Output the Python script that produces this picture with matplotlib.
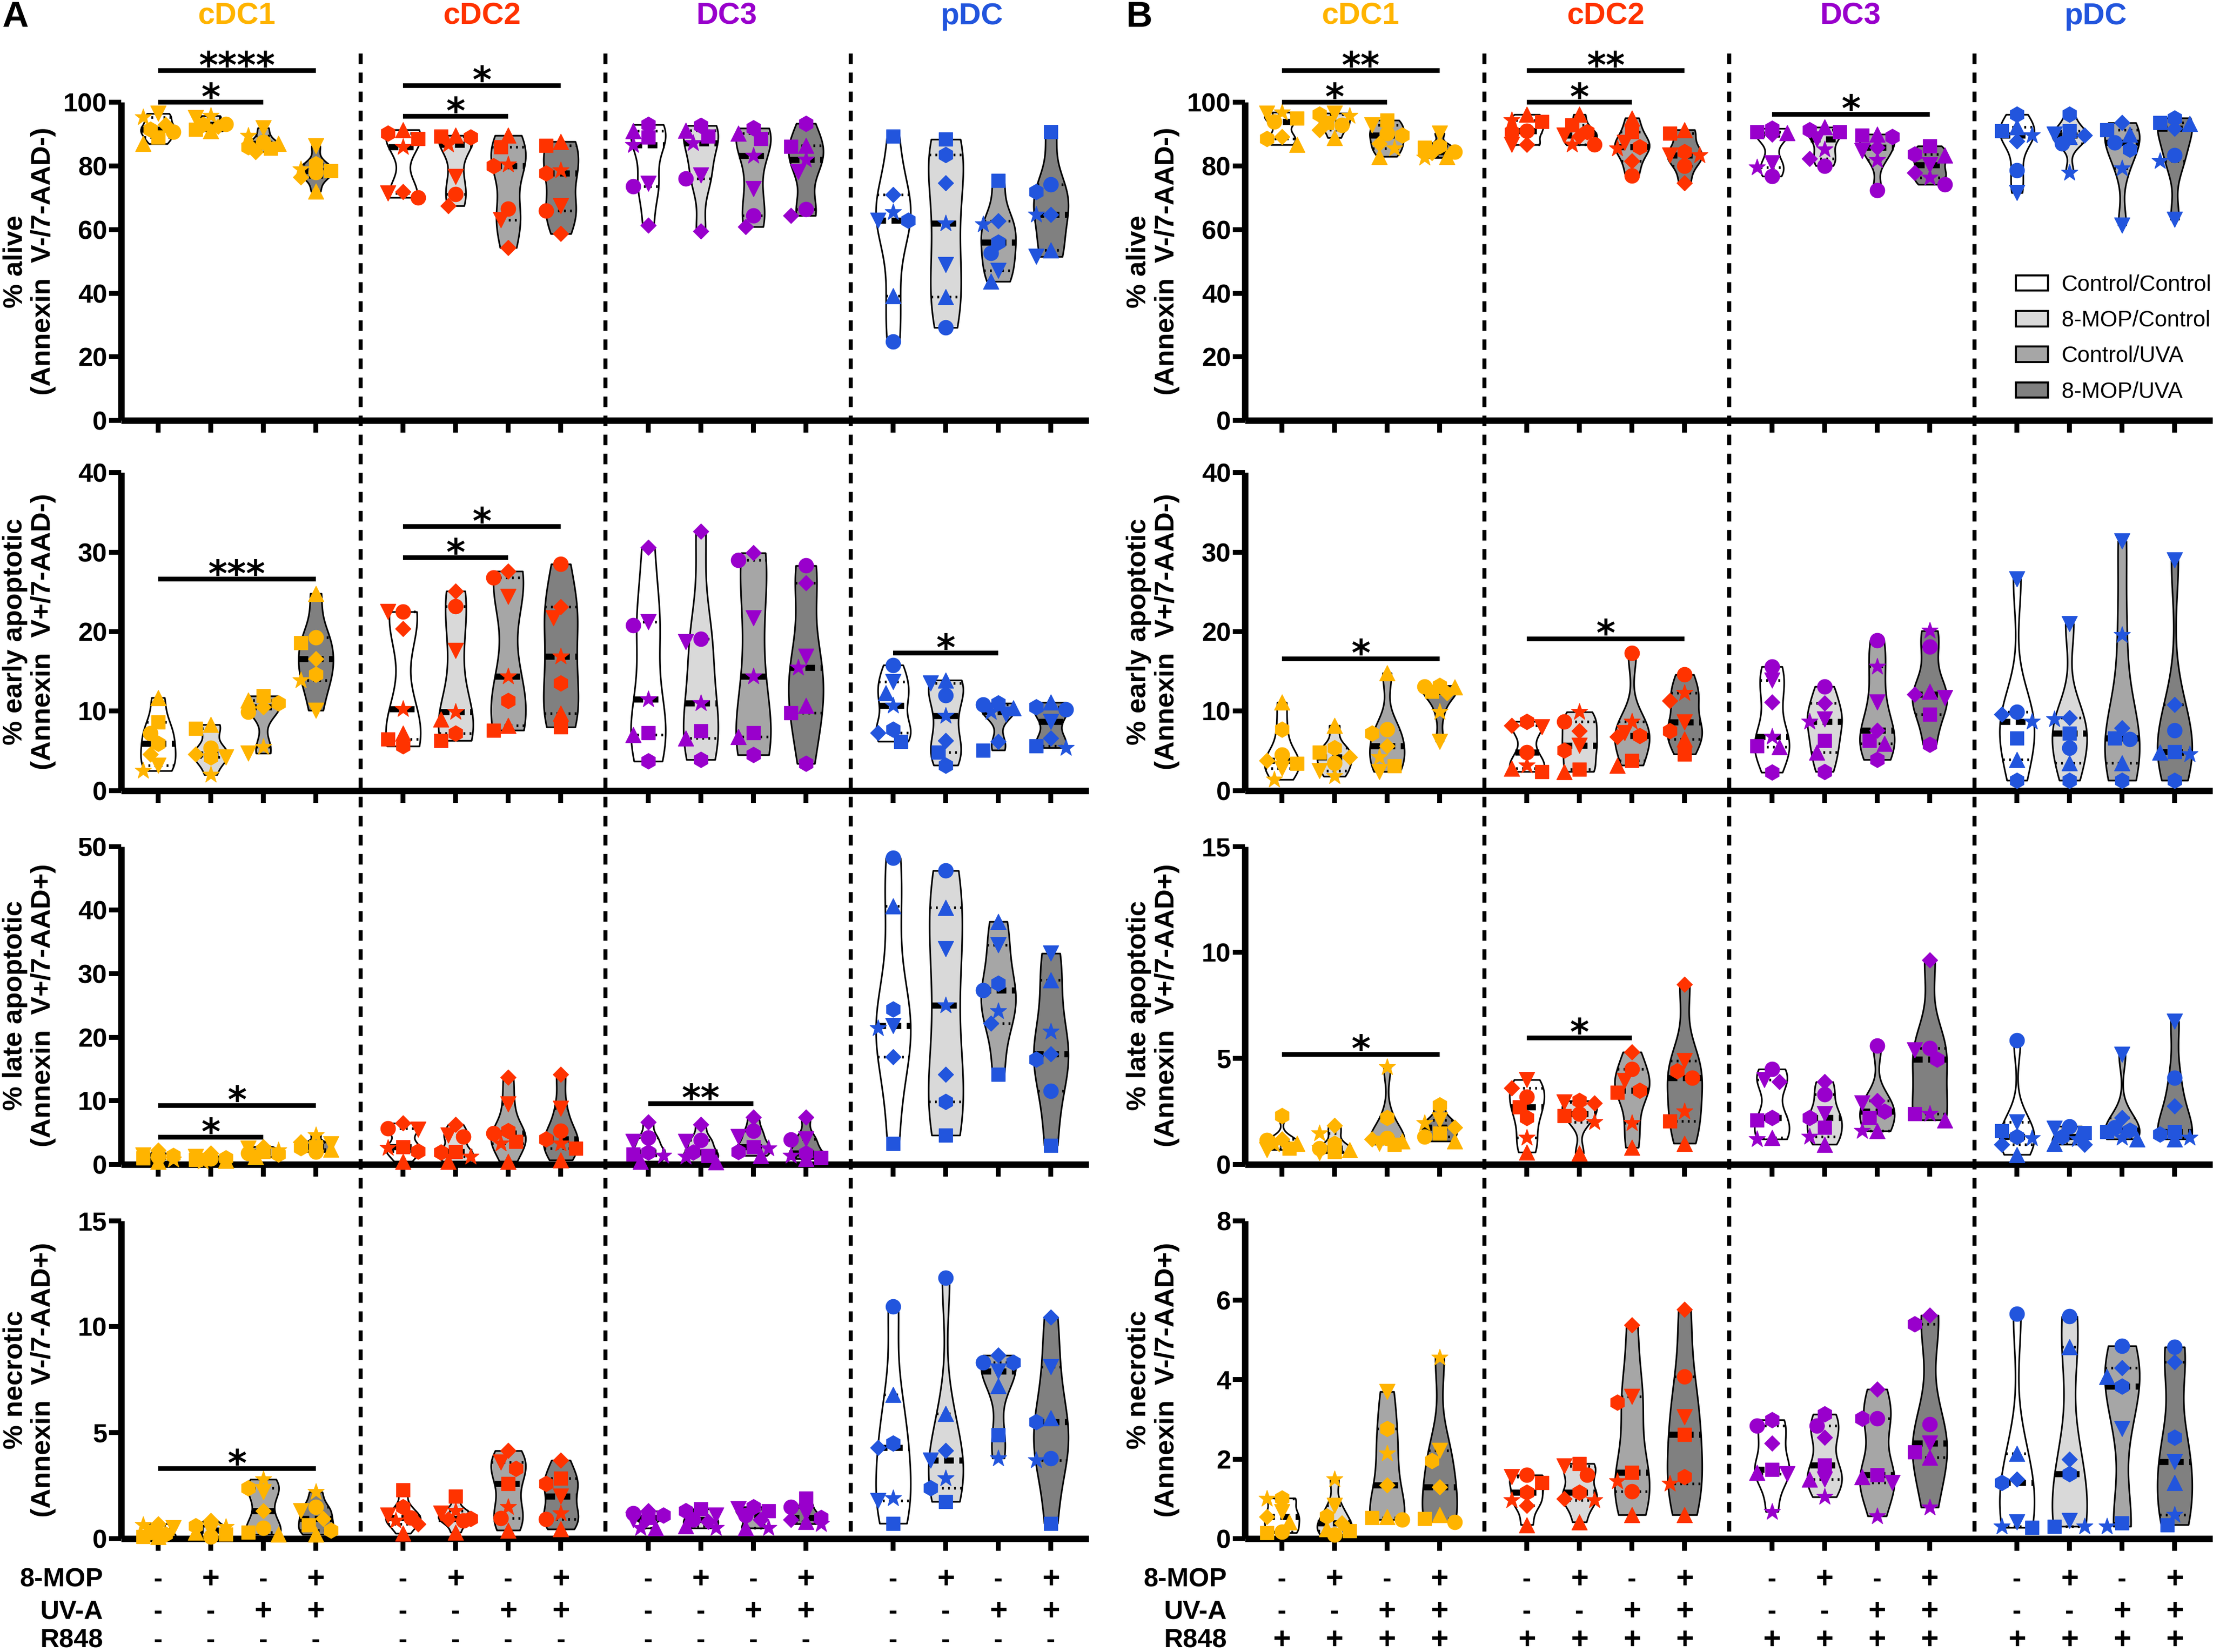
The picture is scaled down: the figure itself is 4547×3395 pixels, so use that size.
import numpy as np
import matplotlib
matplotlib.use("Agg")
import matplotlib.pyplot as plt
import matplotlib.transforms as mtransforms
from matplotlib.lines import Line2D
from matplotlib.patches import Patch

plt.rcParams['font.family'] = ['Liberation Sans', 'DejaVu Sans']
plt.rcParams['font.weight'] = 'bold'

groups = ['cDC1', 'cDC2', 'DC3', 'pDC']
group_colors = ['#FFB400', '#FF3300', '#9900CC', '#2255DD']
conditions = ['Control/Control', '8-MOP/Control', 'Control/UVA', '8-MOP/UVA']
condition_fills = ['#FFFFFF', '#D9D9D9', '#A6A6A6', '#808080']
donor_markers = ['o', 's', '^', 'v', 'D', 'h', '*']
donor_sizes = [7.3, 6.5, 7.6, 7.6, 5.4, 7.8, 8.8]

row_labels = ['% alive\n(Annexin  V-/7-AAD-)',
              '% early apoptotic\n(Annexin  V+/7-AAD-)',
              '% late apoptotic\n(Annexin  V+/7-AAD+)',
              '% necrotic\n(Annexin  V-/7-AAD+)']
a_ymax = [100, 40, 50, 15]
a_ystep = [20, 10, 10, 5]
b_ymax = [100, 40, 15, 8]
b_ystep = [20, 10, 5, 2]

mop_signs = ['-', '+', '-', '+']
uva_signs = ['-', '-', '+', '+']
a_r848 = ['-', '-', '-', '-']
b_r848 = ['+', '+', '+', '+']

# each violin: donors in order circle, square, tri-up, tri-down, diamond, hexagon, star
# 16 violins per row: cDC1 x4 conditions, cDC2 x4, DC3 x4, pDC x4
A_ALIVE = [
    [90.8, 89.0, 87.0, 96.5, 93.0, 91.5, 95.4], [93.2, 91.5, 91.0, 95.2, 92.5, 93.0, 95.8],
    [87.5, 85.5, 87.0, 92.0, 84.5, 86.0, 89.5], [78.0, 78.5, 72.0, 86.3, 76.5, 80.6, 79.0],
    [70.1, 88.6, 91.4, 71.4, 71.9, 90.3, 86.0], [71.2, 89.4, 89.6, 76.7, 67.5, 89.0, 86.8],
    [66.6, 86.0, 89.6, 63.0, 54.3, 80.0, 80.5], [65.9, 86.4, 87.7, 67.5, 58.7, 77.8, 78.6],
    [73.6, 89.0, 91.0, 74.5, 61.3, 93.0, 86.6], [76.0, 89.4, 91.2, 77.1, 59.5, 92.7, 87.2],
    [64.4, 88.6, 90.3, 72.9, 60.9, 91.9, 83.3], [66.4, 86.1, 86.4, 78.2, 64.4, 93.4, 82.0],
    [24.8, 89.4, 39.1, 62.9, 71.0, 62.9, 65.5], [29.2, 88.4, 38.9, 49.0, 74.7, 83.6, 62.0],
    [52.7, 75.4, 43.7, 47.2, 62.8, 56.0, 61.6], [74.2, 90.8, 53.6, 51.5, 64.8, 71.9, 64.8],
]
A_EARLY = [
    [7.2, 8.6, 11.7, 3.2, 4.6, 5.9, 2.5], [5.4, 7.8, 8.3, 4.2, 4.6, 4.2, 2.0],
    [9.9, 11.9, 11.4, 4.7, 10.5, 11.0, 5.5], [19.3, 18.6, 24.8, 10.1, 16.6, 14.6, 13.9],
    [22.5, 6.5, 7.2, 22.5, 20.4, 5.6, 10.3], [23.2, 6.3, 9.0, 17.6, 25.1, 7.2, 9.9],
    [26.8, 7.6, 8.2, 24.4, 27.6, 11.3, 14.4], [28.5, 8.0, 9.7, 21.7, 23.1, 13.5, 16.9],
    [20.8, 7.3, 7.0, 21.2, 30.6, 3.7, 11.5], [19.1, 7.5, 6.6, 18.7, 32.6, 3.9, 11.0],
    [29.0, 7.3, 6.8, 21.7, 29.9, 4.5, 14.4], [28.3, 9.8, 10.7, 16.9, 26.1, 3.4, 15.5],
    [15.8, 6.2, 12.3, 13.7, 7.3, 7.7, 10.7], [12.0, 4.8, 13.9, 13.5, 6.3, 3.2, 9.4],
    [10.8, 5.1, 10.4, 9.6, 6.2, 11.0, 9.9], [10.2, 5.6, 11.1, 8.7, 6.6, 10.5, 5.4],
]
A_LATE = [
    [1.2, 1.0, 0.5, 1.5, 2.2, 1.4, 0.8], [0.9, 0.8, 0.6, 1.2, 1.8, 1.0, 0.5],
    [1.8, 2.0, 1.2, 2.5, 2.8, 1.6, 2.2], [2.0, 2.8, 2.4, 3.2, 3.5, 2.6, 4.6],
    [5.7, 2.8, 0.5, 5.5, 6.5, 2.1, 2.6], [4.4, 2.0, 0.5, 4.6, 6.3, 1.9, 1.2],
    [4.9, 3.6, 0.5, 9.5, 13.7, 5.3, 3.3], [5.3, 2.5, 0.7, 8.8, 14.2, 4.0, 3.3],
    [4.2, 1.6, 0.5, 3.6, 6.7, 1.9, 1.4], [3.8, 1.4, 0.4, 3.6, 6.3, 1.9, 1.2],
    [5.3, 2.8, 1.4, 4.4, 7.4, 2.0, 2.5], [3.9, 1.1, 0.9, 4.0, 7.4, 1.8, 1.4],
    [48.2, 3.3, 40.6, 21.8, 16.9, 24.4, 21.4], [46.2, 4.6, 40.4, 33.9, 14.2, 9.9, 25.0],
    [27.4, 14.2, 38.2, 34.5, 22.2, 28.5, 24.1], [11.6, 3.0, 29.0, 33.2, 17.4, 16.5, 20.9],
]
A_NECROTIC = [
    [0.3, 0.1, 0.1, 0.5, 0.7, 0.2, 0.65], [0.1, 0.2, 0.3, 0.4, 0.85, 0.6, 0.55],
    [0.5, 0.3, 0.2, 2.2, 1.3, 2.4, 2.8], [1.5, 0.65, 0.2, 1.3, 0.95, 0.4, 2.2],
    [1.0, 2.3, 0.25, 1.1, 0.7, 1.5, 0.85], [0.85, 2.0, 0.3, 1.2, 0.93, 0.95, 1.3],
    [0.96, 2.6, 0.4, 3.6, 4.15, 3.3, 1.5], [0.93, 2.85, 0.45, 2.0, 3.7, 2.6, 1.2],
    [1.2, 1.0, 0.5, 0.9, 1.3, 1.1, 0.5], [0.9, 1.4, 0.6, 1.1, 0.8, 1.3, 0.5],
    [1.1, 1.3, 0.5, 1.4, 0.9, 1.5, 0.5], [1.5, 1.9, 0.8, 1.2, 0.9, 1.0, 0.7],
    [10.95, 0.72, 6.8, 1.8, 4.3, 4.5, 1.9], [12.3, 1.75, 5.9, 3.7, 4.15, 2.4, 2.85],
    [8.3, 4.9, 7.2, 7.9, 8.65, 8.3, 3.8], [3.8, 0.72, 5.7, 8.1, 10.45, 5.5, 3.7],
]
B_ALIVE = [
    [94.0, 95.1, 86.7, 96.6, 89.2, 88.6, 96.9], [92.9, 93.6, 88.9, 96.6, 91.4, 96.2, 95.8],
    [90.3, 94.4, 83.0, 92.9, 87.0, 89.6, 85.5], [84.5, 85.9, 83.0, 90.3, 84.1, 86.3, 82.6],
    [91.1, 94.0, 96.2, 86.7, 86.8, 90.7, 94.4], [86.7, 92.9, 96.2, 89.6, 89.4, 90.7, 86.7],
    [77.0, 90.7, 95.1, 87.4, 81.5, 86.0, 85.5], [80.0, 90.3, 91.4, 83.4, 74.6, 84.5, 83.4],
    [76.8, 90.8, 90.4, 81.0, 90.0, 91.8, 79.5], [80.1, 90.7, 92.2, 88.5, 82.3, 91.4, 85.2],
    [72.4, 89.6, 90.0, 84.8, 85.9, 89.2, 81.9], [74.2, 86.3, 83.4, 80.4, 77.9, 83.7, 76.4],
    [78.6, 91.1, 92.2, 71.6, 87.8, 96.2, 89.6], [87.0, 91.1, 89.2, 90.0, 89.6, 96.2, 77.9],
    [87.4, 91.4, 90.0, 61.4, 93.6, 85.2, 79.3], [83.4, 93.6, 93.3, 63.2, 91.8, 95.1, 81.5],
]
B_EARLY = [
    [4.5, 3.4, 11.1, 2.8, 3.8, 7.7, 1.4], [3.5, 4.8, 8.2, 2.5, 4.2, 5.4, 1.8],
    [7.7, 3.1, 14.8, 2.4, 5.6, 7.2, 4.2], [13.1, 12.5, 13.0, 6.2, 12.3, 13.2, 9.9],
    [4.8, 2.4, 2.8, 8.0, 8.2, 8.7, 3.2], [8.7, 2.7, 2.4, 5.7, 7.5, 5.1, 9.9],
    [17.3, 3.8, 3.2, 7.3, 6.8, 6.9, 8.7], [14.6, 4.6, 6.5, 8.6, 11.3, 7.5, 12.3],
    [15.6, 5.6, 5.5, 13.9, 11.1, 2.3, 6.8], [13.1, 6.3, 4.8, 9.0, 11.0, 2.4, 8.7],
    [18.9, 6.3, 5.9, 11.1, 7.6, 3.9, 15.6], [18.1, 9.6, 12.5, 11.7, 12.1, 5.8, 20.1],
    [9.9, 6.6, 3.9, 26.6, 9.6, 1.3, 8.7], [5.4, 7.2, 3.5, 21.0, 9.2, 1.3, 9.0],
    [6.5, 6.6, 3.5, 31.4, 7.9, 1.3, 19.6], [7.6, 4.9, 4.8, 29.0, 10.8, 1.3, 4.6],
]
B_LATE = [
    [1.15, 0.75, 1.0, 0.7, 1.2, 2.3, 0.95], [0.75, 0.6, 0.7, 0.55, 1.85, 1.0, 1.48],
    [1.25, 0.95, 1.1, 1.0, 1.2, 2.2, 4.6], [1.3, 1.48, 1.1, 2.1, 1.74, 2.8, 1.95],
    [3.2, 2.7, 0.58, 4.0, 3.6, 2.2, 1.27], [2.4, 2.3, 0.53, 2.95, 2.9, 3.0, 2.0],
    [4.5, 3.4, 0.8, 3.95, 5.3, 3.5, 1.95], [4.1, 2.05, 1.0, 4.9, 8.5, 4.4, 2.5],
    [4.5, 2.1, 1.27, 4.0, 3.9, 2.2, 1.2], [3.3, 1.74, 0.95, 2.4, 3.9, 2.2, 1.3],
    [5.6, 2.2, 1.58, 2.9, 3.0, 2.5, 1.58], [5.5, 2.4, 2.1, 5.4, 9.65, 4.95, 2.4],
    [5.85, 1.58, 0.47, 2.0, 0.95, 1.3, 1.25], [1.8, 1.5, 1.0, 1.7, 0.95, 1.3, 1.2],
    [1.74, 1.53, 1.2, 5.2, 2.2, 1.6, 1.27], [4.1, 1.53, 1.2, 6.75, 2.75, 1.42, 1.27],
]
B_NECROTIC = [
    [0.17, 0.15, 0.42, 0.68, 0.55, 1.02, 1.0], [0.1, 0.2, 0.25, 0.83, 0.39, 0.57, 1.49],
    [0.48, 0.53, 0.55, 3.7, 1.35, 2.77, 2.14], [0.42, 0.5, 0.6, 2.22, 1.3, 1.96, 4.56],
    [1.6, 1.41, 0.35, 1.56, 0.83, 1.16, 0.97], [1.6, 1.89, 0.42, 1.82, 1.0, 1.16, 0.97],
    [1.19, 1.67, 0.6, 3.57, 5.37, 3.43, 1.45], [4.08, 2.62, 0.6, 3.06, 5.77, 1.56, 1.38],
    [2.84, 1.74, 1.67, 1.63, 2.4, 2.99, 0.68], [2.84, 1.85, 1.49, 1.49, 2.55, 3.13, 1.05],
    [3.02, 1.6, 1.56, 1.41, 3.76, 3.02, 0.57], [2.88, 2.18, 2.04, 2.4, 5.62, 5.4, 0.79],
    [5.66, 0.28, 2.14, 0.42, 1.49, 1.41, 0.31], [5.59, 0.31, 4.82, 0.46, 2.0, 1.63, 0.31],
    [4.85, 0.39, 4.08, 2.77, 4.3, 3.83, 0.31], [4.82, 0.35, 1.41, 1.93, 4.45, 2.55, 0.6],
]

# significance: (panel, row, group, from condition, to condition, bar level, stars)
signif = [
    (0, 0, 0, 0, 3, 110, '****'), (0, 0, 0, 0, 2, 100, '*'),
    (0, 0, 1, 0, 3, 105.3, '*'), (0, 0, 1, 0, 2, 95.6, '*'),
    (0, 1, 0, 0, 3, 26.6, '***'), (0, 1, 1, 0, 2, 29.3, '*'),
    (0, 1, 1, 0, 3, 33.2, '*'), (0, 1, 3, 0, 2, 17.3, '*'),
    (0, 2, 0, 0, 2, 4.3, '*'), (0, 2, 0, 0, 3, 9.3, '*'), (0, 2, 2, 0, 2, 9.6, '**'),
    (0, 3, 0, 0, 3, 3.3, '*'),
    (1, 0, 0, 0, 3, 110, '**'), (1, 0, 0, 0, 2, 100, '*'),
    (1, 0, 1, 0, 3, 110, '**'), (1, 0, 1, 0, 2, 100, '*'), (1, 0, 2, 0, 3, 96.3, '*'),
    (1, 1, 0, 0, 3, 16.6, '*'), (1, 1, 1, 0, 3, 19.1, '*'),
    (1, 2, 0, 0, 3, 5.2, '*'), (1, 2, 1, 0, 2, 5.98, '*'),
]

GROUP_STEP = 4.66
HALF_WIDTH = 0.33
XLIM = (-0.7, 17.7)
ROW_BOTTOMS = [0.7455, 0.5214, 0.2951, 0.0686]
ROW_HEIGHT = 0.1925
PANEL_LEFTS = [0.0548, 0.5626]
PANEL_WIDTH = 0.4372


def xpos(g, c):
    return g * GROUP_STEP + c


def swarm(ys, ppx, ppy, diam):
    ys = np.asarray(ys, float)
    offs = np.zeros(len(ys))
    placed = []
    step = diam * 0.55
    maxoff = (HALF_WIDTH - 0.02) * ppx
    for i in np.argsort(-ys):
        best, best_cost = 0.0, None
        for k in [0, -1, 1, -2, 2, -3, 3, -4, 4]:
            ox = k * step
            if abs(ox) > maxoff:
                continue
            cost = 0.0
            for px, py in placed:
                d = np.hypot(ox - px, (ys[i] - py) * ppy)
                if d < diam * 0.9:
                    cost += diam * 0.9 - d
            if cost == 0:
                best = ox
                best_cost = 0
                break
            if best_cost is None or cost < best_cost:
                best, best_cost = ox, cost
        offs[i] = best / ppx
        placed.append((best, ys[i]))
    return offs


def draw_violin(ax, x0, vals, fill, color, ppx, ppy):
    vals = np.asarray(vals, float)
    lo, hi = vals.min(), vals.max()
    bw = 0.75 * vals.std(ddof=1) * len(vals) ** (-0.2)
    grid = np.linspace(lo, hi, 240)
    dens = np.exp(-0.5 * ((grid[:, None] - vals[None, :]) / bw) ** 2).sum(axis=1)
    half = dens / dens.max() * HALF_WIDTH
    ax.fill_betweenx(grid, x0 - half, x0 + half, facecolor=fill,
                     edgecolor='black', linewidth=0.8, zorder=1)
    q1, med, q3 = np.percentile(vals, [25, 50, 75], method='weibull')
    for q in (q1, q3):
        w = np.interp(q, grid, half)
        ax.plot([x0 - w, x0 + w], [q, q], color='black', lw=1.3,
                linestyle=(0, (0.7, 1.6)), zorder=2)
    w = np.interp(med, grid, half)
    ax.plot([x0 - w, x0 + w], [med, med], color='black', lw=3.0,
            linestyle=(0, (1.6, 0.9)), zorder=2)
    offs = swarm(vals, ppx, ppy, 28)
    for j, v in enumerate(vals):
        ax.plot(x0 + offs[j], v, marker=donor_markers[j], ms=donor_sizes[j],
                color=color, mec=color, mew=0.3, linestyle='none', zorder=3,
                clip_on=False)


fig = plt.figure(figsize=(4547 / 300, 3395 / 300), dpi=300)

panel_data = [[A_ALIVE, A_EARLY, A_LATE, A_NECROTIC],
              [B_ALIVE, B_EARLY, B_LATE, B_NECROTIC]]
panel_ymax = [a_ymax, b_ymax]
panel_ystep = [a_ystep, b_ystep]
panel_r848 = [a_r848, b_r848]
axes = [[None] * 4 for _ in range(2)]
ticks = [xpos(g, c) for g in range(4) for c in range(4)]

for p in range(2):
    for r in range(4):
        ax = fig.add_axes([PANEL_LEFTS[p], ROW_BOTTOMS[r], PANEL_WIDTH, ROW_HEIGHT])
        axes[p][r] = ax
        ymax = panel_ymax[p][r]
        ax.set_xlim(*XLIM)
        ax.set_ylim(0, ymax)
        ax.set_yticks(np.arange(0, ymax + 0.01, panel_ystep[p][r]))
        ax.set_xticks(ticks)
        ax.set_xticklabels([])
        for s in ('top', 'right'):
            ax.spines[s].set_visible(False)
        for s in ('left', 'bottom'):
            ax.spines[s].set_linewidth(3.2)
            ax.spines[s].set_capstyle('butt')
        ax.tick_params(axis='both', width=2.4, length=6, direction='out',
                       labelsize=13, pad=1)
        ax.patch.set_alpha(0)
        ppx = PANEL_WIDTH * 4547 / (XLIM[1] - XLIM[0])
        ppy = ROW_HEIGHT * 3395 / ymax
        data = panel_data[p][r]
        for g in range(4):
            for c in range(4):
                draw_violin(ax, xpos(g, c), data[g * 4 + c], condition_fills[c],
                            group_colors[g], ppx, ppy)
        fig.text(PANEL_LEFTS[p] - 0.0416, ROW_BOTTOMS[r] + ROW_HEIGHT / 2,
                 row_labels[r], rotation=90, ha='center', va='center',
                 fontsize=13.5, fontweight='bold', linespacing=1.15,
                 multialignment='center')

# significance bars
for p, r, g, c1, c2, lvl, stars in signif:
    ax = axes[p][r]
    ax.plot([xpos(g, c1), xpos(g, c2)], [lvl, lvl], color='black', lw=2.3,
            solid_capstyle='butt', clip_on=False, zorder=4)
    ax.annotate(stars, ((xpos(g, c1) + xpos(g, c2)) / 2, lvl),
                xytext=(0, -3.5), textcoords='offset points', ha='center',
                va='baseline', fontsize=18, fontweight='bold',
                family='DejaVu Sans', annotation_clip=False)

# group titles, separators, bottom sign rows
for p in range(2):
    top_ax, bot_ax = axes[p][0], axes[p][3]
    ttop = mtransforms.blended_transform_factory(top_ax.transData, fig.transFigure)
    tbot = mtransforms.blended_transform_factory(bot_ax.transData, fig.transFigure)
    for g in range(4):
        fig.text(xpos(g, 1.5), 0.9902, groups[g], transform=ttop, ha='center',
                 va='center', fontsize=15, fontweight='bold', color=group_colors[g])
    for g in range(3):
        xs = xpos(g, 3.85)
        fig.add_artist(Line2D([xs, xs], [0.9676, ROW_BOTTOMS[3]], transform=tbot,
                              color='black', lw=2.0, linestyle=(0, (2.6, 2.1))))
    rows = [('8-MOP', mop_signs, 0.0436), ('UV-A', uva_signs, 0.0242),
            ('R848', panel_r848[p], 0.0068)]
    label_x = PANEL_LEFTS[p] - 0.0082
    for name, signs, yy in rows:
        fig.text(label_x, yy, name, ha='right', va='center', fontsize=13,
                 fontweight='bold')
        for g in range(4):
            for c in range(4):
                fig.text(xpos(g, c), yy, signs[c], transform=tbot, ha='center',
                         va='center', fontsize=15 if signs[c] == '+' else 13,
                         fontweight='bold')

fig.text(0.001, 0.9895, 'A', ha='left', va='center', fontsize=18, fontweight='bold')
fig.text(0.509, 0.9895, 'B', ha='left', va='center', fontsize=18, fontweight='bold')

handles = [Patch(facecolor=f, edgecolor='black', linewidth=1.0) for f in condition_fills]
leg = fig.legend(handles, conditions, loc='upper left', bbox_to_anchor=(0.911, 0.834),
                 frameon=False, handlelength=1.44, handleheight=0.68,
                 handletextpad=0.6, labelspacing=0.64, borderpad=0, borderaxespad=0,
                 prop={'size': 11, 'weight': 'normal'})

fig.savefig('out.png', dpi=300)
